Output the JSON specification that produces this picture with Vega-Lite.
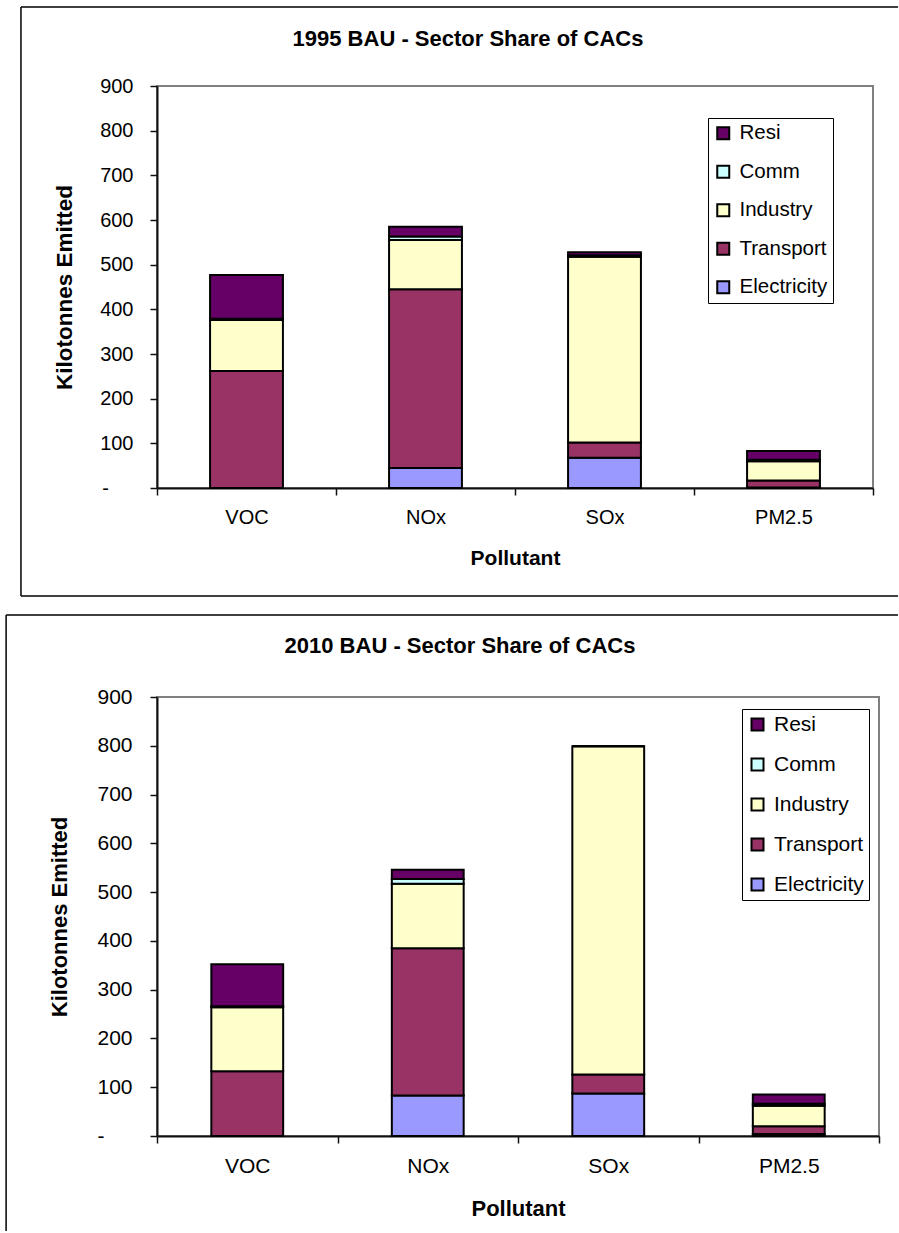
{
  "$schema": "https://vega.github.io/schema/vega-lite/v6.json",
  "background": "white",
  "padding": {"left": 4, "top": 5, "right": 0, "bottom": 0},
  "spacing": 15,
  "resolve": {"scale": {"color": "independent"}},
  "config": {
    "font": "Liberation Sans",
    "view": {"stroke": "#808080", "strokeWidth": 2},
    "axis": {
      "labelFont": "Liberation Sans",
      "titleFont": "Liberation Sans",
      "labelColor": "#000",
      "titleColor": "#000",
      "titleFontWeight": "bold",
      "domainColor": "#111",
      "domainWidth": 2,
      "tickColor": "#111",
      "tickWidth": 1.5,
      "tickSize": 7,
      "grid": false
    },
    "legend": {
      "title": null,
      "orient": "none",
      "labelFont": "Liberation Sans",
      "labelColor": "#000",
      "fillColor": "white",
      "strokeColor": "#000",
      "padding": 5,
      "symbolType": "square",
      "symbolSize": 144,
      "symbolStrokeColor": "#000",
      "symbolStrokeWidth": 2,
      "symbolOpacity": 1,
      "labelOffset": 6
    },
    "title": {
      "font": "Liberation Sans",
      "fontSize": 22,
      "fontWeight": "bold",
      "color": "#000",
      "anchor": "middle",
      "frame": "group"
    }
  },
  "datasets": {
    "bau1995": [
      {"Pollutant": "VOC", "Sector": "Electricity", "Kilotonnes": 0},
      {"Pollutant": "VOC", "Sector": "Transport", "Kilotonnes": 262},
      {"Pollutant": "VOC", "Sector": "Industry", "Kilotonnes": 114},
      {"Pollutant": "VOC", "Sector": "Comm", "Kilotonnes": 3},
      {"Pollutant": "VOC", "Sector": "Resi", "Kilotonnes": 98},
      {"Pollutant": "NOx", "Sector": "Electricity", "Kilotonnes": 45},
      {"Pollutant": "NOx", "Sector": "Transport", "Kilotonnes": 400},
      {"Pollutant": "NOx", "Sector": "Industry", "Kilotonnes": 110},
      {"Pollutant": "NOx", "Sector": "Comm", "Kilotonnes": 8},
      {"Pollutant": "NOx", "Sector": "Resi", "Kilotonnes": 22},
      {"Pollutant": "SOx", "Sector": "Electricity", "Kilotonnes": 68},
      {"Pollutant": "SOx", "Sector": "Transport", "Kilotonnes": 34},
      {"Pollutant": "SOx", "Sector": "Industry", "Kilotonnes": 416},
      {"Pollutant": "SOx", "Sector": "Comm", "Kilotonnes": 3},
      {"Pollutant": "SOx", "Sector": "Resi", "Kilotonnes": 7},
      {"Pollutant": "PM2.5", "Sector": "Electricity", "Kilotonnes": 1},
      {"Pollutant": "PM2.5", "Sector": "Transport", "Kilotonnes": 16},
      {"Pollutant": "PM2.5", "Sector": "Industry", "Kilotonnes": 43},
      {"Pollutant": "PM2.5", "Sector": "Comm", "Kilotonnes": 3},
      {"Pollutant": "PM2.5", "Sector": "Resi", "Kilotonnes": 20}
    ],
    "bau2010": [
      {"Pollutant": "VOC", "Sector": "Electricity", "Kilotonnes": 0},
      {"Pollutant": "VOC", "Sector": "Transport", "Kilotonnes": 133},
      {"Pollutant": "VOC", "Sector": "Industry", "Kilotonnes": 131},
      {"Pollutant": "VOC", "Sector": "Comm", "Kilotonnes": 2},
      {"Pollutant": "VOC", "Sector": "Resi", "Kilotonnes": 86},
      {"Pollutant": "NOx", "Sector": "Electricity", "Kilotonnes": 83},
      {"Pollutant": "NOx", "Sector": "Transport", "Kilotonnes": 302},
      {"Pollutant": "NOx", "Sector": "Industry", "Kilotonnes": 132},
      {"Pollutant": "NOx", "Sector": "Comm", "Kilotonnes": 10},
      {"Pollutant": "NOx", "Sector": "Resi", "Kilotonnes": 19},
      {"Pollutant": "SOx", "Sector": "Electricity", "Kilotonnes": 87},
      {"Pollutant": "SOx", "Sector": "Transport", "Kilotonnes": 39},
      {"Pollutant": "SOx", "Sector": "Industry", "Kilotonnes": 673},
      {"Pollutant": "SOx", "Sector": "Comm", "Kilotonnes": 0},
      {"Pollutant": "SOx", "Sector": "Resi", "Kilotonnes": 0},
      {"Pollutant": "PM2.5", "Sector": "Electricity", "Kilotonnes": 4},
      {"Pollutant": "PM2.5", "Sector": "Transport", "Kilotonnes": 16},
      {"Pollutant": "PM2.5", "Sector": "Industry", "Kilotonnes": 42},
      {"Pollutant": "PM2.5", "Sector": "Comm", "Kilotonnes": 4},
      {"Pollutant": "PM2.5", "Sector": "Resi", "Kilotonnes": 19}
    ]
  },
  "vconcat": [
    {
      "width": 716,
      "height": 402,
      "title": {"text": "1995 BAU - Sector Share of CACs", "fontSize": 22, "dx": -47, "offset": -44.5},
      "resolve": {"scale": {"x": "independent", "y": "independent"}},
      "layer": [
        {
          "data": {"name": "bau1995"},
          "transform": [
            {"calculate": "indexof(['Electricity','Transport','Industry','Comm','Resi'], datum.Sector)", "as": "stackOrder"}
          ],
          "mark": {"type": "bar", "width": {"band": 0.407}, "stroke": "#000", "strokeWidth": 2},
          "encoding": {
            "x": {
              "field": "Pollutant", "type": "nominal",
              "sort": ["VOC", "NOx", "SOx", "PM2.5"],
              "scale": {"paddingInner": 0, "paddingOuter": 0},
              "axis": {"title": "Pollutant", "labelAngle": 0, "tickBand": "extent", "labelFontSize": 20, "titleFontSize": 21, "labelPadding": 12.5, "titlePadding": 20}
            },
            "y": {
              "field": "Kilotonnes", "type": "quantitative", "stack": "zero",
              "scale": {"domain": [0, 900], "nice": false},
              "axis": {
                "orient": "left",
                "title": "Kilotonnes Emitted",
                "values": [0, 100, 200, 300, 400, 500, 600, 700, 800, 900],
                "labelExpr": "datum.value === 0 ? '' : datum.label",
                "labelPadding": 17,
                "labelFontSize": 20, "titleFontSize": 22.5, "titlePadding": 23
              }
            },
            "color": {
              "field": "Sector", "type": "nominal",
              "scale": {
                "domain": ["Resi", "Comm", "Industry", "Transport", "Electricity"],
                "range": ["#660066", "#CCFFFF", "#FFFFCC", "#993366", "#9999FF"]
              },
              "legend": {"legendX": 551, "legendY": 32, "labelFontSize": 20.5, "rowPadding": 17.5}
            },
            "order": {"field": "stackOrder", "type": "quantitative"}
          }
        },
        {
          "data": {"values": [{}]},
          "mark": {"type": "rule", "color": "#000", "strokeWidth": 1.5},
          "encoding": {
            "x": {"datum": -0.19, "type": "quantitative", "scale": {"domain": [0, 1], "nice": false, "zero": false}, "axis": null},
            "x2": {"datum": 1.035},
            "y": {"datum": 1.1965, "type": "quantitative", "scale": {"domain": [0, 1], "nice": false, "zero": false}, "axis": null}
          }
        },
        {
          "data": {"values": [{}]},
          "mark": {"type": "rule", "color": "#000", "strokeWidth": 1.5},
          "encoding": {
            "x": {"datum": -0.19, "type": "quantitative", "scale": {"domain": [0, 1], "nice": false, "zero": false}, "axis": null},
            "x2": {"datum": 1.035},
            "y": {"datum": -0.2687, "type": "quantitative", "scale": {"domain": [0, 1], "nice": false, "zero": false}, "axis": null}
          }
        },
        {
          "data": {"values": [{}]},
          "mark": {"type": "rule", "color": "#000", "strokeWidth": 1.5},
          "encoding": {
            "x": {"datum": -0.19, "type": "quantitative", "scale": {"domain": [0, 1], "nice": false, "zero": false}, "axis": null},
            "y": {
              "datum": 1.1965, "type": "quantitative",
              "scale": {"domain": [0, 1], "nice": false, "zero": false},
              "axis": {"orient": "left", "title": null, "values": [0], "labelExpr": "'-'", "domain": false, "ticks": false, "tickSize": 0, "labelPadding": 48.5, "labelFontSize": 20}
            },
            "y2": {"datum": -0.2687}
          }
        }
      ]
    },
    {
      "width": 722,
      "height": 439,
      "title": {"text": "2010 BAU - Sector Share of CACs", "fontSize": 22, "dx": -58, "offset": -44},
      "resolve": {"scale": {"x": "independent", "y": "independent"}},
      "layer": [
        {
          "data": {"name": "bau2010"},
          "transform": [
            {"calculate": "indexof(['Electricity','Transport','Industry','Comm','Resi'], datum.Sector)", "as": "stackOrder"}
          ],
          "mark": {"type": "bar", "width": {"band": 0.398}, "stroke": "#000", "strokeWidth": 2},
          "encoding": {
            "x": {
              "field": "Pollutant", "type": "nominal",
              "sort": ["VOC", "NOx", "SOx", "PM2.5"],
              "scale": {"paddingInner": 0, "paddingOuter": 0},
              "axis": {"title": "Pollutant", "labelAngle": 0, "tickBand": "extent", "labelFontSize": 21, "titleFontSize": 22, "labelPadding": 12.5, "titlePadding": 21.5}
            },
            "y": {
              "field": "Kilotonnes", "type": "quantitative", "stack": "zero",
              "scale": {"domain": [0, 900], "nice": false},
              "axis": {
                "orient": "left",
                "title": "Kilotonnes Emitted",
                "values": [0, 100, 200, 300, 400, 500, 600, 700, 800, 900],
                "labelExpr": "datum.value === 0 ? '' : datum.label",
                "labelPadding": 18,
                "labelFontSize": 21, "titleFontSize": 22, "titlePadding": 25
              }
            },
            "color": {
              "field": "Sector", "type": "nominal",
              "scale": {
                "domain": ["Resi", "Comm", "Industry", "Transport", "Electricity"],
                "range": ["#660066", "#CCFFFF", "#FFFFCC", "#993366", "#9999FF"]
              },
              "legend": {"legendX": 585, "legendY": 12, "labelFontSize": 21, "rowPadding": 18}
            },
            "order": {"field": "stackOrder", "type": "quantitative"}
          }
        },
        {
          "data": {"values": [{}]},
          "mark": {"type": "rule", "color": "#000", "strokeWidth": 1.5},
          "encoding": {
            "x": {"datum": -0.209, "type": "quantitative", "scale": {"domain": [0, 1], "nice": false, "zero": false}, "axis": null},
            "x2": {"datum": 1.0263},
            "y": {"datum": 1.1868, "type": "quantitative", "scale": {"domain": [0, 1], "nice": false, "zero": false}, "axis": null}
          }
        },
        {
          "data": {"values": [{}]},
          "mark": {"type": "rule", "color": "#000", "strokeWidth": 1.5},
          "encoding": {
            "x": {"datum": -0.209, "type": "quantitative", "scale": {"domain": [0, 1], "nice": false, "zero": false}, "axis": null},
            "y": {
              "datum": 1.1868, "type": "quantitative",
              "scale": {"domain": [0, 1], "nice": false, "zero": false},
              "axis": {"orient": "left", "title": null, "values": [0], "labelExpr": "'-'", "domain": false, "ticks": false, "tickSize": 0, "labelPadding": 53, "labelFontSize": 21}
            },
            "y2": {"datum": -0.2164}
          }
        }
      ]
    }
  ]
}
